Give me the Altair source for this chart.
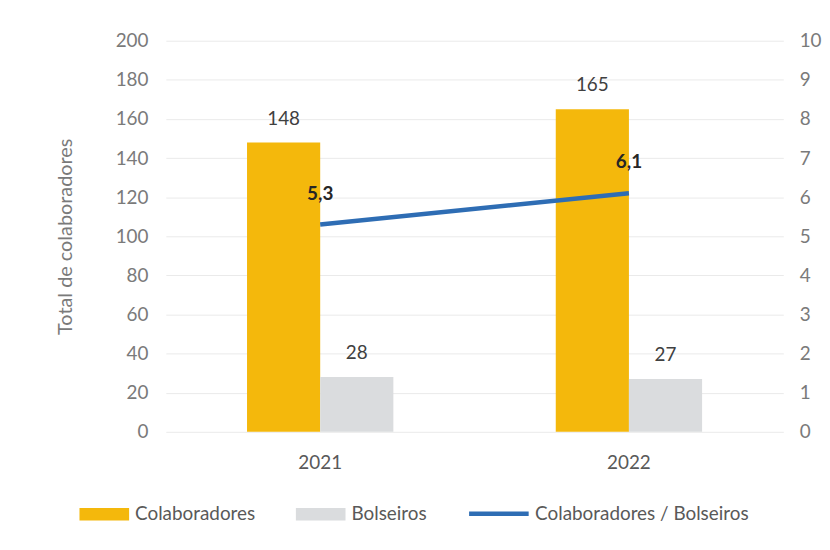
import altair as alt
import pandas as pd

years = ["2021", "2022"]
colaboradores = [148, 165]
bolseiros = [28, 27]
ratio = [5.3, 6.1]
series = ["Colaboradores", "Bolseiros"]
line_name = "Colaboradores / Bolseiros"

bars_df = pd.DataFrame({
    "ano": years * 2,
    "serie": [series[0]] * 2 + [series[1]] * 2,
    "valor": colaboradores + bolseiros,
})
line_df = pd.DataFrame({"ano": years, "racio": ratio, "serie": [line_name] * 2})

FONT = "Lato"
GOLD = "#F4B80C"
GREY = "#DADCDE"
BLUE = "#2E6DB4"
FS = 19

xscale = alt.Scale(paddingInner=0.526, paddingOuter=0.263)
x = alt.X("ano:N", scale=xscale, sort=years,
          axis=alt.Axis(title=None, labelAngle=0, ticks=False, domain=False,
                        labelPadding=22, labelFontSize=FS, labelColor="#595959"))
xoff = alt.XOffset("serie:N", scale=alt.Scale(domain=series, paddingInner=0, paddingOuter=0))

left_axis = alt.Axis(title="Total de colaboradores", values=list(range(0, 201, 20)),
                     labelOverlap=False,
                     grid=True, gridColor="#EAEAEA", ticks=False, domain=False,
                     labelPadding=18, labelFontSize=FS, labelColor="#7a7a7a",
                     titleFontSize=20, titleColor="#7a7a7a", titleFontWeight="normal",
                     titlePadding=40)
yleft = alt.Y("valor:Q", scale=alt.Scale(domain=[0, 200]), axis=left_axis)

bars = alt.Chart(bars_df).mark_bar().encode(
    x=x, xOffset=xoff, y=yleft,
    color=alt.Color("serie:N", scale=alt.Scale(domain=series, range=[GOLD, GREY]),
                    legend=alt.Legend(title=None, orient="none", direction="horizontal",
                                      legendX=-87, legendY=452,
                                      symbolType="M-1,-0.25L1,-0.25L1,0.25L-1,0.25Z",
                                      symbolSize=2500, symbolStrokeWidth=0,
                                      labelFontSize=FS, labelColor="#595959",
                                      labelOffset=6, columnPadding=40)),
)
bartext = alt.Chart(bars_df).mark_text(dy=-24, baseline="middle", fontSize=FS,
                                      color="#404040", font=FONT).encode(
    x=x, xOffset=xoff, y=yleft, text=alt.Text("valor:Q"),
)

right_axis = alt.Axis(title=None, orient="right", values=list(range(0, 11)),
                      labelOverlap=False,
                      grid=False, ticks=False, domain=False, labelPadding=16,
                      labelFontSize=FS, labelColor="#7a7a7a")
yright = alt.Y("racio:Q", scale=alt.Scale(domain=[0, 10]), axis=right_axis)
line = alt.Chart(line_df).mark_line(strokeWidth=4.5).encode(
    x=alt.X("ano:N", sort=years), y=yright,
    stroke=alt.Stroke("serie:N", scale=alt.Scale(domain=[line_name], range=[BLUE]),
                      legend=alt.Legend(title=None, orient="none", legendX=303, legendY=444,
                                        symbolType="stroke", symbolSize=3600,
                                        symbolStrokeWidth=4.5, labelFontSize=FS,
                                        labelColor="#595959", labelOffset=4,
                                        labelLimit=400)),
)
linetext = alt.Chart(line_df).transform_calculate(
    lbl="replace(format(datum.racio, '.1f'), '.', ',')"
).mark_text(dy=-31, baseline="middle", fontSize=FS, fontWeight="bold",
            color="#262626", font=FONT).encode(
    x=alt.X("ano:N", sort=years), y=yright, text="lbl:N",
)

left = alt.layer(bars, bartext)
right = alt.layer(line, linetext)
chart = alt.layer(left, right).resolve_scale(y="independent", color="independent").properties(
    width=622, height=394,
    autosize=alt.AutoSizeParams(type="none"),
    padding={"left": 159, "top": 31, "right": 39, "bottom": 108},
).configure(font=FONT).configure_view(stroke=None)

chart.save("out.html", embed_options={"renderer": "svg", "actions": False})
